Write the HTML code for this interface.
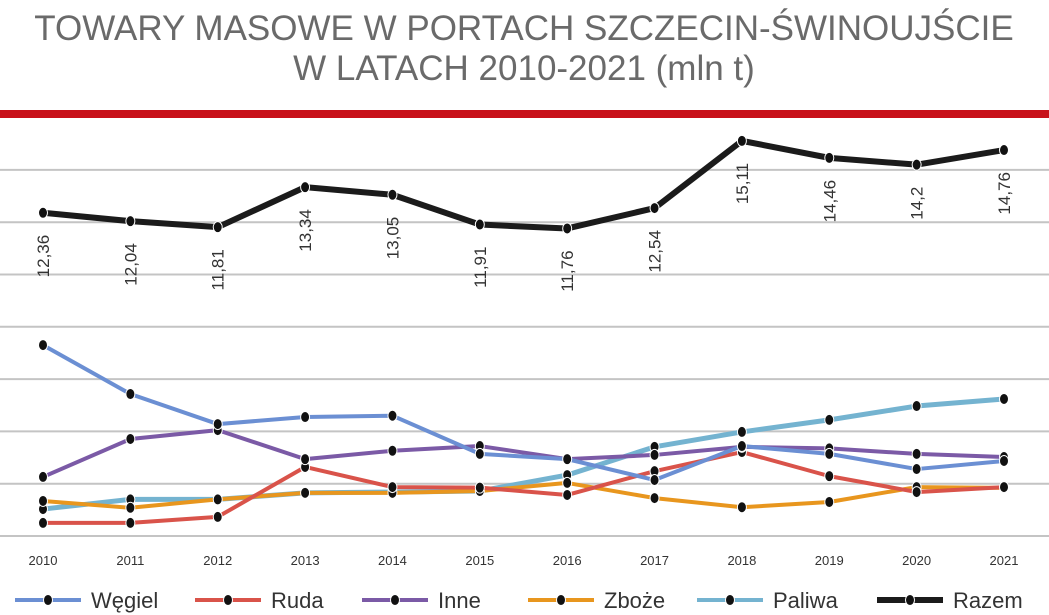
<!DOCTYPE html>
<html><head><meta charset="utf-8"><style>
body{margin:0;background:#fff;}
svg{display:block;font-family:"Liberation Sans",sans-serif;}
</style></head><body>
<svg id="chart" width="1049" height="615" viewBox="0 0 1049 615">
<text x="524" y="40" text-anchor="middle" font-size="35" fill="#6a6a6a">TOWARY MASOWE W PORTACH SZCZECIN-ŚWINOUJŚCIE</text>
<text x="524" y="80" text-anchor="middle" font-size="35" fill="#6a6a6a">W LATACH 2010-2021 (mln t)</text>
<rect x="0" y="110" width="1049" height="8" fill="#c8111a"/>
<g id="grid"></g><g id="lines"></g><g id="xaxis"></g><g id="legend"></g>
</svg>
<script>
const years=["2010","2011","2012","2013","2014","2015","2016","2017","2018","2019","2020","2021"];
const wegiel=[7.30,5.43,4.28,4.55,4.60,3.14,2.94,2.14,3.44,3.14,2.56,2.87];
const ruda=[0.50,0.50,0.73,2.64,1.87,1.85,1.57,2.48,3.21,2.29,1.68,1.87];
const inne=[2.26,3.71,4.05,2.94,3.26,3.44,2.94,3.10,3.41,3.35,3.14,3.02];
const zboze=[1.34,1.08,1.40,1.65,1.65,1.72,2.03,1.45,1.10,1.30,1.87,1.84];
const paliwa=[1.03,1.40,1.40,1.65,1.68,1.72,2.33,3.41,3.98,4.44,4.97,5.24];
const razem=[12.36,12.04,11.81,13.34,13.05,11.91,11.76,12.54,15.11,14.46,14.2,14.76];
const razemLabels=["12,36","12,04","11,81","13,34","13,05","11,91","11,76","12,54","15,11","14,46","14,2","14,76"];
const gridTicks=[0,2,4,6,8,10,12,14];
const NS="http://www.w3.org/2000/svg";
const x=i=>43+i*(1004-43)/11;
const y=v=>536-v*26.15;
function mk(tag,attrs,parent){const e=document.createElementNS(NS,tag);for(const k in attrs)e.setAttribute(k,attrs[k]);parent.appendChild(e);return e;}
const grid=document.getElementById('grid');
gridTicks.forEach(t=>{const l=mk('line',{x1:0,x2:1049,y1:y(t),y2:y(t),stroke:'#c4c4c4','stroke-width':2},grid);

});
const series=[
{n:'paliwa',d:paliwa,c:'#74b3d0',w:5},
{n:'zboze',d:zboze,c:'#e8961e',w:4},
{n:'ruda',d:ruda,c:'#d9534a',w:4},
{n:'inne',d:inne,c:'#7b5aa6',w:4},
{n:'wegiel',d:wegiel,c:'#6b8fd3',w:4},
{n:'razem',d:razem,c:'#1b1b1b',w:6}];
const lines=document.getElementById('lines');
series.forEach(s=>{
const g=mk('g',{},lines);


const p=mk('polyline',{points:s.d.map((v,i)=>x(i)+','+y(v)).join(' '),fill:'none',stroke:s.c,'stroke-width':s.w,'stroke-linejoin':'round'},g);


s.d.forEach((v,i)=>{const c=mk('ellipse',{cx:x(i),cy:y(v),rx:4.5,ry:5.5,fill:'#111',stroke:'#fff','stroke-width':1},g);

});
});
razem.forEach((v,i)=>{const yy=y(v)+22;
const t=mk('text',{x:0,y:0,transform:'translate('+(x(i)+6)+','+yy+') rotate(-90)','text-anchor':'end','font-size':17,fill:'#333'},lines);
t.textContent=razemLabels[i];

});
const xa=document.getElementById('xaxis');
years.forEach((yr,i)=>{const t=mk('text',{x:x(i),y:565,'text-anchor':'middle','font-size':13,fill:'#333'},xa);
t.textContent=yr;

});
const leg=[['Węgiel','#6b8fd3',15],['Ruda','#d9534a',195],['Inne','#7b5aa6',362],['Zboże','#e8961e',528],['Paliwa','#74b3d0',697],['Razem','#1b1b1b',877]];
const lg=document.getElementById('legend');
leg.forEach(l=>{const g=mk('g',{},lg);


mk('line',{x1:l[2],x2:l[2]+66,y1:600,y2:600,stroke:l[1],'stroke-width':l[0]==='Razem'?6:4},g);
mk('ellipse',{cx:l[2]+33,cy:600,rx:4.5,ry:5.5,fill:'#111',stroke:'#fff','stroke-width':1},g);
const t=mk('text',{x:l[2]+76,y:608,'font-size':22,fill:'#333'},g);t.textContent=l[0];});
</script>
</body></html>
